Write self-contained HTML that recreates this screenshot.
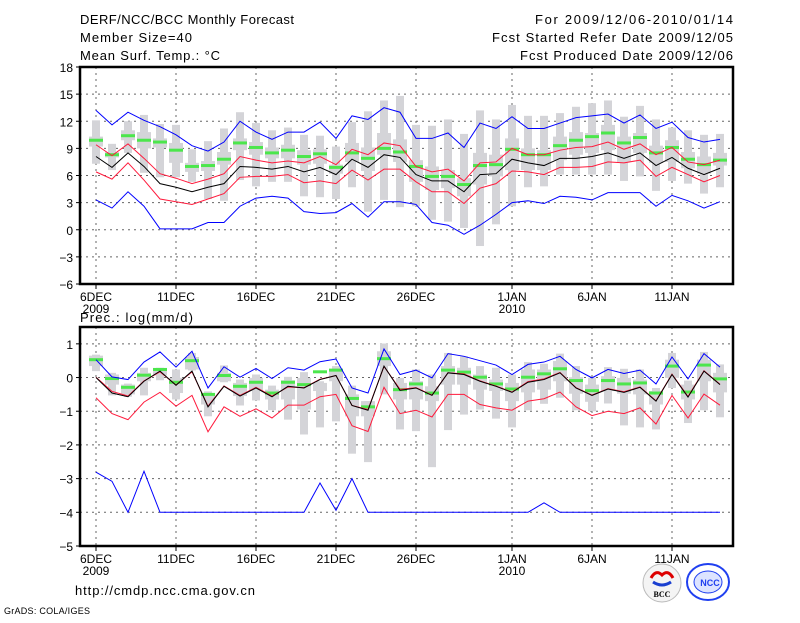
<!DOCTYPE html>
<html><head><meta charset="utf-8"><style>
body{margin:0;background:#fff;}
svg text{font-family:"Liberation Sans",sans-serif;fill:#000;}
</style></head><body>
<svg id="chart" width="800" height="618" xmlns="http://www.w3.org/2000/svg">
<text x="80" y="24" font-size="13" textLength="214">DERF/NCC/BCC Monthly Forecast</text>
<text x="80" y="42" font-size="13" textLength="112">Member Size=40</text>
<text x="80" y="60" font-size="13" textLength="140">Mean Surf. Temp.: °C</text>
<text x="733" y="24" font-size="13" text-anchor="end" textLength="198">For 2009/12/06-2010/01/14</text>
<text x="733" y="42" font-size="13" text-anchor="end" textLength="241">Fcst Started Refer Date 2009/12/05</text>
<text x="733" y="60" font-size="13" text-anchor="end" textLength="213">Fcst Produced Date 2009/12/06</text>
<text x="80" y="322" font-size="13" textLength="113">Prec.: log(mm/d)</text>
<text x="75" y="595" font-size="13" textLength="180">http://cmdp.ncc.cma.gov.cn</text>
<text x="4" y="614" font-size="9" textLength="86">GrADS: COLA/IGES</text>
<g>
<circle cx="662" cy="583" r="19" fill="#f4f4f4" stroke="#bbb"/>
<path d="M651 578 q5 -9 11 -3 q6 -6 11 3" fill="none" stroke="#d00" stroke-width="3"/>
<path d="M653 582 q9 6 18 0" fill="none" stroke="#1a3fd0" stroke-width="3"/>
<text x="662" y="597" font-size="8" font-weight="bold" text-anchor="middle" style="font-family:'Liberation Serif',serif">BCC</text>
</g>
<g>
<ellipse cx="708" cy="582" rx="21" ry="18" fill="none" stroke="#2040f0" stroke-width="2"/>
<ellipse cx="708" cy="582" rx="14" ry="11" fill="#dde4ff" stroke="#2040f0"/>
<text x="710" y="586" font-size="9" font-weight="bold" text-anchor="middle" style="fill:#2040f0">NCC</text>
</g>
</svg>
<script>
const days = ["6DEC","11DEC","16DEC","21DEC","26DEC","1JAN","6JAN","11JAN"];
const dayIdx = [0,5,10,15,20,26,31,36];
const yearLabels = ["2009","2010"];
const yearIdx = [0,26];
const tTicks = [-6,-3,0,3,6,9,12,15,18];
const pTicks = [-5,-4,-3,-2,-1,0,1];

const tBlueUp = [13.2,11.6,13,12.1,11.4,10.5,9.3,8.7,9.7,12,10.8,10,10.8,10.8,11.9,10.1,12.6,12.2,13.5,13,10.1,10.1,10.7,9.1,11.8,11.2,12.5,11.2,11.2,11.8,12.4,12.6,12.8,11.8,12.7,11.2,11.9,10.2,9.7,10];
const tRedUp = [9.4,8.2,9.5,7.9,6.2,5.7,5.1,5.6,6.2,8.1,7.7,7.4,7.6,7.4,8.1,7.2,8.9,8.3,9.6,9.3,7,6.4,6.7,5.4,7.4,7.5,9,8.3,8.3,8.8,9.1,9.2,9.7,8.9,9.5,8.3,9.1,7.5,7.2,7.7];
const tMean = [8.1,6.9,8.5,7,5.1,4.7,4.2,4.7,5.1,7,6.9,6.7,7,6.4,6.9,6.1,7.8,6.9,8.3,8,6.1,5.4,5.4,4.2,6.1,6.2,7.8,7.4,7.1,7.9,7.9,8.1,8.5,7.9,8.5,7.1,8,6.8,6.1,6.8];
const tRedLo = [6.4,5.6,7.4,5.5,3.4,3.1,2.8,3.4,4,5.8,5.9,5.9,6.1,5.2,5.4,5.1,6.6,5.5,6.7,6.7,5.3,4.2,4.2,2.9,4.6,5.1,6.5,6.4,6.1,6.9,6.9,7,7.5,7.4,7.7,5.9,6.9,6.1,5.3,6];
const tBlueLo = [3.3,2.4,4.2,2.6,0.1,0.1,0.1,0.8,0.8,2.6,3.5,3.7,3.5,2,1.8,1.9,2.9,1.4,3.1,3.1,2.8,0.8,0.5,-0.5,0.5,1.7,3,3.2,2.9,3.7,3.6,3.3,4.1,4.1,4.1,2.6,3.8,3.2,2.4,3.1];
const tGreen = [9.9,8.3,10.4,9.9,9.7,8.8,7,7.1,7.8,9.6,9.1,8.5,8.8,8.1,8.4,6.9,8.5,7.9,9,8.6,7,5.9,5.9,5,7.1,7.2,8.9,8.3,8.3,9.3,9.9,10.3,10.7,9.6,10.2,8.5,9.1,7.8,7.2,7.7];
const tMax = [12.1,9.5,12,12.7,11.7,11.6,8.9,9.8,11.2,13,11.8,11,11.3,10.5,10.4,9.2,11.9,13.1,14.3,14.8,11.6,11.5,12.2,10.6,13.2,12.2,13.8,12.6,12.6,12.9,13.6,14,14.3,12.5,13.7,12.2,11.3,11,10.5,10.6];
const tMin = [7.3,6.6,8.5,6.3,5.8,5.8,5.3,3.4,3.2,5.5,4.8,5.3,5.3,3.7,3.6,3.4,4.7,2,3.3,2.5,2.6,1.1,0.9,0.2,-1.8,0.6,2.6,4.7,4.8,6.1,6.1,6.1,6.1,5.4,5.9,4.3,5.4,5.1,4,4.7];
const tQ3 = [10.3,8.6,11,10.8,10.1,9.6,7.4,7.6,8.6,10.1,9.7,9.1,9.4,8.8,8.9,7.2,9.6,9.1,10.7,10,7.7,7,6.6,5.7,8.5,8.3,10.1,9,8.8,10.3,10.8,10.7,11.6,10.3,10.7,9.3,9.9,8.6,8.1,8.5];
const tQ1 = [9.2,8,9.9,9,9.1,7.4,6.4,6.5,7.2,8.8,8.3,7.9,7.9,7.2,7.3,6.2,7.5,6.5,8.3,7.5,5.3,4.4,4.6,3.7,5,5.9,6.6,6.6,6.6,7.7,8.3,8.5,8.8,7.5,8.5,7.4,7.5,6.8,6.2,7.1];

const pBlueUp = [0.53,0.02,-0.06,0.46,0.76,0.31,0.78,-0.31,0.32,0.01,0.27,-0.03,0.29,0.22,0.47,0.55,-0.31,-0.46,0.85,0.09,0.22,-0.01,0.71,0.63,0.5,0.37,0.09,0.39,0.46,0.63,0.24,-0.01,0.24,0.12,0.22,-0.19,0.61,-0.04,0.71,0.31];
const pMean = [0,-0.46,-0.57,-0.11,0.19,-0.23,0.19,-0.87,-0.26,-0.55,-0.31,-0.57,-0.26,-0.31,-0.06,0.06,-0.83,-0.97,0.34,-0.38,-0.31,-0.53,0.14,0.09,-0.11,-0.26,-0.44,-0.14,-0.06,0.14,-0.31,-0.53,-0.34,-0.44,-0.29,-0.7,0.09,-0.58,0.19,-0.21];
const pRedUp = [0.01,-0.41,-0.55,-0.1,0.17,-0.22,0.17,-0.85,-0.25,-0.53,-0.29,-0.55,-0.28,-0.3,-0.05,0.06,-0.83,-0.95,0.33,-0.35,-0.3,-0.52,0.14,0.11,-0.1,-0.25,-0.43,-0.12,-0.04,0.15,-0.3,-0.52,-0.33,-0.42,-0.28,-0.69,0.1,-0.56,0.2,-0.2];
const pRedLo = [-0.6,-1.07,-1.25,-0.73,-0.44,-0.85,-0.53,-1.61,-0.87,-1.15,-0.93,-1.2,-0.82,-0.82,-0.57,-0.5,-1.43,-1.6,-0.29,-1.07,-0.97,-1.17,-0.5,-0.5,-0.8,-0.9,-0.97,-0.7,-0.63,-0.43,-0.87,-1.13,-1,-1.07,-0.9,-1.38,-0.53,-1.2,-0.49,-0.82];
const pBlueLo = [-2.81,-3.08,-4,-2.78,-4,-4,-4,-4,-4,-4,-4,-4,-4,-4,-3.13,-3.94,-3,-4,-4,-4,-4,-4,-4,-4,-4,-4,-4,-4,-3.72,-4,-4,-4,-4,-4,-4,-4,-4,-4,-4,-4];
const pGreen = [0.53,-0.03,-0.29,0.07,0.24,-0.14,0.5,-0.5,0.06,-0.26,-0.14,-0.46,-0.14,-0.21,0.17,0.22,-0.62,-0.87,0.56,-0.36,-0.19,-0.46,0.22,0.16,0.01,-0.19,-0.34,0.01,0.11,0.26,-0.09,-0.39,-0.09,-0.19,-0.16,-0.46,0.34,-0.43,0.37,-0.04];
const pMax = [0.68,0.14,-0.18,0.29,0.29,0.24,0.73,-0.41,0.36,-0.06,0.09,-0.24,0.02,0.16,-0.11,0.34,-0.24,-0.7,1.01,-0.01,0.24,0.09,0.73,0.63,0.34,0.29,0.09,0.46,0.41,0.71,0.34,-0.01,0.31,0.26,0.24,-0.31,0.73,-0.09,0.76,0.39];
const pMin = [0.19,-0.53,-0.57,-0.53,-0.08,-0.65,0.21,-1.15,-0.14,-0.83,-0.68,-0.97,-1.25,-1.69,-1.48,-1.3,-2.26,-2.51,-0.5,-1.54,-1.59,-2.66,-1.56,-1.1,-0.95,-1.22,-1.48,-0.97,-0.78,-0.6,-0.97,-1,-0.77,-1.42,-1.48,-1.54,-0.31,-1.35,-0.97,-1.18];
const pQ3 = [0.65,0.09,-0.21,0.14,0.26,-0.01,0.61,-0.46,0.14,-0.16,-0.01,-0.36,-0.08,-0.01,-0.16,0.24,-0.5,-0.7,0.78,-0.16,-0.11,-0.26,0.34,0.29,0.09,-0.06,-0.16,0.24,0.24,0.49,0.01,-0.21,0.04,-0.01,-0.06,-0.4,0.53,-0.21,0.53,0.14];
const pQ1 = [0.34,-0.21,-0.5,-0.11,0.06,-0.46,0.24,-0.8,-0.11,-0.55,-0.4,-0.65,-0.65,-0.95,-0.4,-0.11,-1.15,-1.15,0.34,-0.65,-0.65,-0.7,-0.21,-0.21,-0.36,-0.4,-0.7,-0.44,-0.36,-0.11,-0.48,-0.72,-0.4,-0.48,-0.5,-0.8,-0.01,-0.65,-0.11,-0.44];

const NS = "http://www.w3.org/2000/svg";
const svg = document.getElementById("chart");
const X0 = 96, DX = 16, LEFT = 80, RIGHT = 733;
const xs = i => X0 + i * DX;
function mk(tag, attrs, parent) {
  const e = document.createElementNS(NS, tag);
  for (const k in attrs) e.setAttribute(k, attrs[k]);
  (parent || svg).appendChild(e);
  return e;
}
function panel(name, top, bottom, vmin, vmax, ticks, S) {
  const y = v => bottom - (v - vmin) / (vmax - vmin) * (bottom - top);
  const g = mk("g", {});
  
  
  ticks.forEach(t => {
    if (t > vmin && t < vmax) {
      const l = mk("line", {x1: LEFT, x2: RIGHT, y1: y(t), y2: y(t), stroke: "#666", "stroke-dasharray": "2,4", "stroke-width": 1}, g);
      
      
    }
    const tk = mk("line", {x1: LEFT - 4, x2: LEFT, y1: y(t), y2: y(t), stroke: "#000"}, g);
    
    
    const tx = mk("text", {x: LEFT - 7, y: y(t) + 5, "font-size": 12, "text-anchor": "end"}, g);
    
    
    tx.textContent = t < 0 ? "\u2212" + (-t) : String(t);
  });
  dayIdx.forEach((d, k) => {
    const l = mk("line", {x1: xs(d), x2: xs(d), y1: top, y2: bottom, stroke: "#666", "stroke-dasharray": "2,4"}, g);
    
    
    const tk = mk("line", {x1: xs(d), x2: xs(d), y1: bottom, y2: bottom + 5, stroke: "#000"}, g);
    
    
    const tx = mk("text", {x: xs(d), y: bottom + 17, "font-size": 12, "text-anchor": "middle"}, g);
    
    
    tx.textContent = days[k];
  });
  yearIdx.forEach((d, k) => {
    const tx = mk("text", {x: xs(d), y: bottom + 29, "font-size": 12, "text-anchor": "middle"}, g);
    
    
    tx.textContent = yearLabels[k];
  });
  S.max.forEach((_, i) => {
    const w = mk("rect", {x: xs(i) - 4, width: 8, y: y(S.max[i]), height: y(S.min[i]) - y(S.max[i]), fill: "#d4d4d8"}, g);
    
    
    const b = mk("rect", {x: xs(i) - 7, width: 14, y: y(S.q3[i]), height: y(S.q1[i]) - y(S.q3[i]), fill: "#d4d4d8"}, g);
    
    
  });
  S.green.forEach((v, i) => {
    const r = mk("rect", {x: xs(i) - 7, width: 14, y: y(v) - 1.5, height: 3, fill: "#4ce64c"}, g);
    
    
  });
  const lines = [[S.blueLo, "#0000ff", "lower-extreme-line"], [S.blueUp, "#0000ff", "upper-extreme-line"], [S.redLo, "#ff1a3c", "lower-spread-line"], [S.redUp, "#ff1a3c", "upper-spread-line"], [S.mean, "#000", "ensemble-mean-line"]];
  lines.forEach(([arr, c, nm]) => {
    const p = mk("polyline", {points: arr.map((v, i) => xs(i) + "," + y(v)).join(" "), fill: "none", stroke: c, "stroke-width": 1}, g);
    
    
  });
  const f = mk("rect", {x: LEFT, y: top, width: RIGHT - LEFT, height: bottom - top, fill: "none", stroke: "#000", "stroke-width": 2.5}, g);
  
  
}
panel("temperature-panel", 67, 284, -6, 18, tTicks, {blueUp: tBlueUp, redUp: tRedUp, mean: tMean, redLo: tRedLo, blueLo: tBlueLo, green: tGreen, max: tMax, min: tMin, q3: tQ3, q1: tQ1});
panel("precipitation-panel", 327, 546, -5, 1.5, pTicks, {blueUp: pBlueUp, redUp: pRedUp, mean: pMean, redLo: pRedLo, blueLo: pBlueLo, green: pGreen, max: pMax, min: pMin, q3: pQ3, q1: pQ1});
</script>
</body></html>
